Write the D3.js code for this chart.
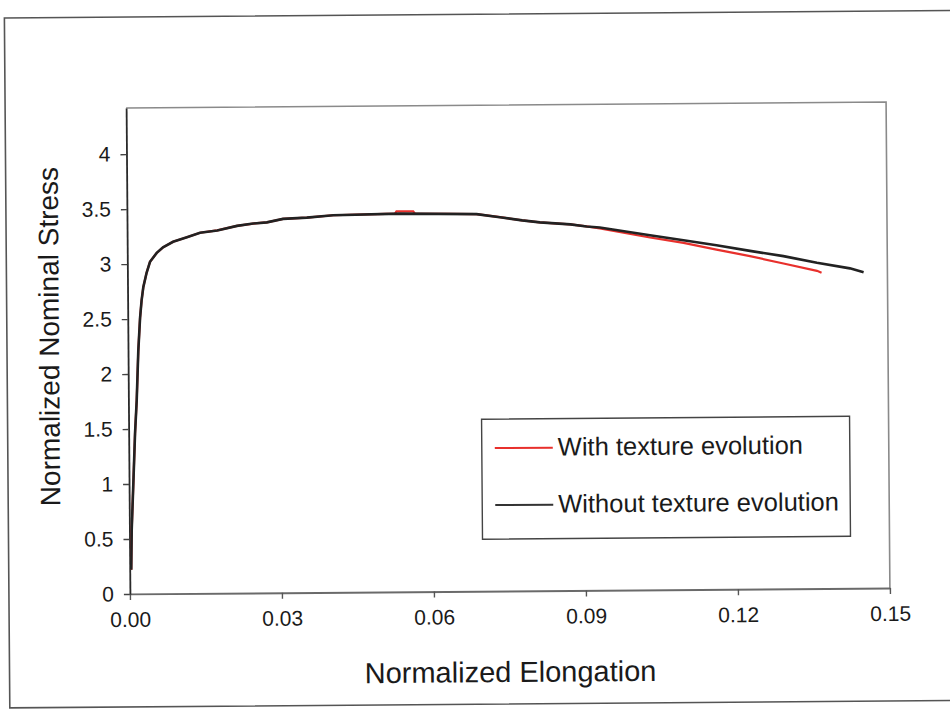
<!DOCTYPE html>
<html>
<head>
<meta charset="utf-8">
<script src="https://cdn.jsdelivr.net/npm/d3@7"></script>
<style>
  html, body { margin: 0; padding: 0; background: #ffffff; }
  svg { display: block; }
  text { font-family: "Liberation Sans", Arial, sans-serif; fill: #1a1a1a; }
</style>
</head>
<body>
<svg id="chart" width="950" height="709"></svg>
<script>
// ---- data ----
const xTicks = [0, 0.03, 0.06, 0.09, 0.12, 0.15];
const xTickLabels = ["0.00", "0.03", "0.06", "0.09", "0.12", "0.15"];
const yTicks = [0, 0.5, 1, 1.5, 2, 2.5, 3, 3.5, 4];
const yTickLabels = ["0", "0.5", "1", "1.5", "2", "2.5", "3", "3.5", "4"];

const seriesNames = ["With texture evolution", "Without texture evolution"];

// Without texture evolution (black)
const elongWithout = [0.0003, 0.00045, 0.00085, 0.00126, 0.00164, 0.00203, 0.00243, 0.00276, 0.00312, 0.00379,
  0.00448, 0.00582, 0.00707, 0.00906, 0.0118, 0.0144, 0.0178, 0.0217, 0.0249, 0.0276, 0.0308, 0.0355, 0.0407,
  0.0539, 0.069, 0.0736, 0.078, 0.0815, 0.0845, 0.0875, 0.0907, 0.0933, 0.1032, 0.1098, 0.1163, 0.1229,
  0.1295, 0.1361, 0.1426, 0.1453];
const stressWithout = [0.22, 0.58, 1.01, 1.46, 1.76, 2.21, 2.51, 2.67, 2.79, 2.92,
  3.02, 3.10, 3.15, 3.20, 3.24, 3.28, 3.30, 3.34, 3.36, 3.37, 3.40, 3.41, 3.43,
  3.44, 3.43, 3.40, 3.37, 3.35, 3.34, 3.33, 3.31, 3.30, 3.226, 3.178, 3.13, 3.076,
  3.026, 2.963, 2.91, 2.873];

// With texture evolution (red)
const elongWith = [0.0003, 0.00045, 0.00085, 0.00126, 0.00164, 0.00203, 0.00243, 0.00276, 0.00312, 0.00379,
  0.00448, 0.00582, 0.00707, 0.00906, 0.0118, 0.0144, 0.0178, 0.0217, 0.0249, 0.0276, 0.0308, 0.0355, 0.0407,
  0.0529, 0.0532, 0.0565, 0.0568, 0.069, 0.0736, 0.078, 0.0815, 0.0845, 0.0875, 0.0907, 0.0933, 0.1032,
  0.1098, 0.1163, 0.1229, 0.1295, 0.1361, 0.137];
const stressWith = [0.22, 0.58, 1.01, 1.46, 1.76, 2.21, 2.51, 2.67, 2.79, 2.92,
  3.02, 3.10, 3.15, 3.20, 3.24, 3.28, 3.30, 3.34, 3.36, 3.37, 3.40, 3.41, 3.43,
  3.44, 3.46, 3.46, 3.44, 3.43, 3.40, 3.37, 3.35, 3.34, 3.33, 3.31, 3.29, 3.205,
  3.154, 3.09, 3.028, 2.959, 2.89, 2.872];

// ---- layout ----
const svg = d3.select("#chart");
const plot = { left: 128, right: 888, top: 105, bottom: 591 };
const yMax = 4.42;

const root = svg.append("g").attr("transform", "rotate(-0.45, 508, 348)");

// outer frame
root.append("path")
  .attr("d", "M960,14 L7,14 L7,704 L960,704")
  .attr("fill", "none").attr("stroke", "#555").attr("stroke-width", 1.6);

const x = d3.scaleLinear().domain([0, 0.15]).range([plot.left, plot.right]);
const y = d3.scaleLinear().domain([0, yMax]).range([plot.bottom, plot.top]);

// plot area border (top + right)
root.append("path")
  .attr("d", `M${plot.left},${plot.top} L${plot.right},${plot.top} L${plot.right},${plot.bottom}`)
  .attr("fill", "none").attr("stroke", "#8a8a8a").attr("stroke-width", 1.6);

// axes
const xAxis = d3.axisBottom(x).tickValues(xTicks)
  .tickFormat((d, i) => xTickLabels[i]).tickSizeInner(6).tickSizeOuter(0).tickPadding(12);
const gx = root.append("g").attr("transform", `translate(0,${plot.bottom})`).call(xAxis);
gx.select(".domain").attr("stroke", "#6a6a6a").attr("stroke-width", 1.8);
gx.selectAll(".tick line").attr("stroke", "#555").attr("stroke-width", 1.4);
gx.selectAll(".tick text").attr("font-size", 21).attr("fill", "#1a1a1a")
  .attr("font-family", "'Liberation Sans', Arial, sans-serif");

const yAxis = d3.axisLeft(y).tickValues(yTicks)
  .tickFormat((d, i) => yTickLabels[i]).tickSizeInner(6).tickSizeOuter(0).tickPadding(10);
const gy = root.append("g").attr("transform", `translate(${plot.left},0)`).call(yAxis);
gy.select(".domain").attr("stroke", "#2a2a2a").attr("stroke-width", 1.8);
gy.selectAll(".tick line").attr("stroke", "#444").attr("stroke-width", 1.4);
gy.selectAll(".tick text").attr("font-size", 21).attr("fill", "#1a1a1a")
  .attr("font-family", "'Liberation Sans', Arial, sans-serif");

// lines
const lineGen = d3.line().x(d => x(d[0])).y(d => y(d[1]));
const redData = elongWith.map((e, i) => [e, stressWith[i]]);
const blackData = elongWithout.map((e, i) => [e, stressWithout[i]]);

root.append("path").datum(redData).attr("d", lineGen)
  .attr("fill", "none").attr("stroke", "#e8302c").attr("stroke-width", 2.2);
root.append("path").datum(blackData).attr("d", lineGen)
  .attr("fill", "none").attr("stroke", "#222").attr("stroke-width", 2.6);

// axis titles
root.append("text")
  .attr("x", (plot.left + plot.right) / 2).attr("y", 682)
  .attr("text-anchor", "middle").attr("font-size", 29)
  .text("Normalized Elongation");
root.append("text")
  .attr("transform", `translate(59, 333) rotate(-90)`)
  .attr("text-anchor", "middle").attr("font-size", 28)
  .text("Normalized Nominal Stress");

// legend
const lg = root.append("g");
lg.append("rect").attr("x", 481).attr("y", 419).attr("width", 368).attr("height", 120)
  .attr("fill", "#fff").attr("stroke", "#444").attr("stroke-width", 1.4);
const legendColors = ["#e8302c", "#333"];
seriesNames.forEach((name, i) => {
  const yy = 448 + i * 57;
  lg.append("line").attr("x1", 494).attr("x2", 552).attr("y1", yy).attr("y2", yy)
    .attr("stroke", legendColors[i]).attr("stroke-width", 2);
  lg.append("text").attr("x", 557).attr("y", yy + 8).attr("font-size", 25.5).text(name);
});
</script>
</body>
</html>
